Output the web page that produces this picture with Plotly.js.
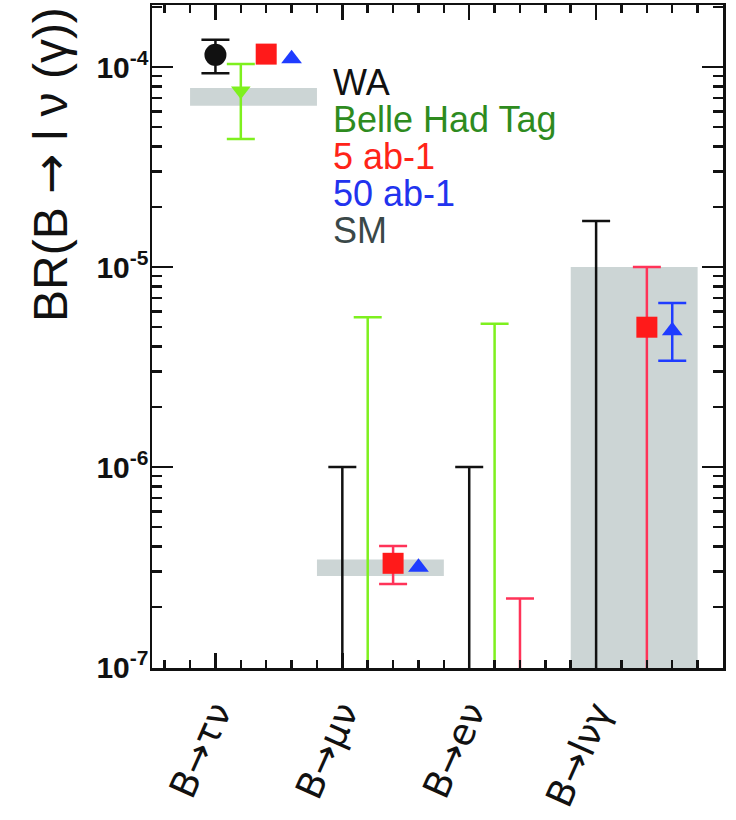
<!DOCTYPE html>
<html><head><meta charset="utf-8">
<script src="https://cdn.plot.ly/plotly-3.0.1.min.js"></script>
<style>html,body{margin:0;padding:0;background:#fff}</style>
</head><body><div id="chart" style="width:736px;height:820px"></div>
<script>
// Categories (x positions 0..3)
const categories = ['B→τν', 'B→μν', 'B→eν', 'B→lνγ'];
const catPos = [0, 1, 2, 3];

// y tick labels
const yTickVals = [1e-7, 1e-6, 1e-5, 1e-4];
const yTickText = ['10<sup>-7</sup>', '10<sup>-6</sup>', '10<sup>-5</sup>', '10<sup>-4</sup>'];

// World average (black)
const waX = [0];
const waY = [1.15e-4];
const waErrPlus = [0.22e-4];
const waErrMinus = [0.22e-4];
const waLimX = [1, 2, 3];
const waLimY = [1.0e-6, 1.0e-6, 1.7e-5];

// Belle hadronic tag (green)
const belleX = [0.2];
const belleY = [7.6e-5];
const belleErrPlus = [2.75e-5];
const belleErrMinus = [3.23e-5];
const belleLimX = [1.2, 2.2];
const belleLimY = [5.6e-6, 5.2e-6];

// 5 ab-1 (red)
const red5PtX = [0.4];
const red5PtY = [1.16e-4];
const red5X = [1.4, 3.4];
const red5Y = [3.3e-7, 5.0e-6];
const red5ErrPlus = [0.73e-7, 5.0e-6];
const red5ErrMinus = [0.70e-7, 5.0e-6];
const red5LimX = [2.4];
const red5LimY = [2.2e-7];

// 50 ab-1 (blue)
const blue50PtX = [0.6, 1.6];
const blue50PtY = [1.1e-4, 3.15e-7];
const blue50X = [3.6];
const blue50Y = [4.8e-6];
const blue50ErrPlus = [1.8e-6];
const blue50ErrMinus = [1.4e-6];

// SM bands
const smX0 = [-0.2, 0.8, 2.8];
const smX1 = [0.8, 1.8, 3.8];
const smLow = [6.4e-5, 2.85e-7, 1e-8];
const smHigh = [7.85e-5, 3.45e-7, 1.0e-5];

// Legend entries
const legendText = ['WA', 'Belle Had Tag', '5 ab-1', '50 ab-1', 'SM'];
const legendColor = ['#111111', '#2e8b1e', '#ff2418', '#2233ee', '#3a4848'];

const yTitle = 'BR(B → l ν (γ))';

const BLACK = '#111111', GREEN = '#7ef01e', RED = '#ff1a1a', REDBAR = '#ff3358', BLUE = '#1f3cff', GRAY = '#ccd5d5';
const arrowSpan = s => s.replace('→', '<span style="font-family:DejaVu Sans">→</span>');

const traces = [];
smX0.forEach((x0, i) => {
  traces.push({
    type: 'scatter', mode: 'lines', fill: 'toself', fillcolor: GRAY,
    line: {width: 0, color: GRAY}, hoverinfo: 'skip',
    x: [x0, smX1[i], smX1[i], x0, x0],
    y: [smLow[i], smLow[i], smHigh[i], smHigh[i], smLow[i]]
  });
});

function limitTrace(xs, ys, color) {
  return {
    type: 'scatter', mode: 'markers', x: xs, y: ys,
    marker: {size: 1, color: 'rgba(0,0,0,0)'},
    error_y: {type: 'data', symmetric: false, array: ys.map(() => 0), arrayminus: ys,
      color: color, thickness: 2.5, width: 14}
  };
}
function pointTrace(xs, ys, plus, minus, color, barColor, symbol, size) {
  const t = {
    type: 'scatter', mode: 'markers', x: xs, y: ys,
    marker: {symbol: symbol, size: size, color: color, line: {width: 0}}
  };
  if (plus) t.error_y = {type: 'data', symmetric: false, array: plus, arrayminus: minus,
    color: barColor, thickness: 2.5, width: 14};
  return t;
}

traces.push(limitTrace(waLimX, waLimY, BLACK));
traces.push(limitTrace(belleLimX, belleLimY, GREEN));
traces.push(limitTrace(red5LimX, red5LimY, REDBAR));
traces.push(pointTrace(waX, waY, waErrPlus, waErrMinus, BLACK, BLACK, 'circle', 22));
traces.push(pointTrace(belleX, belleY, belleErrPlus, belleErrMinus, GREEN, GREEN, 'triangle-down', 17));
traces.push(pointTrace(red5X, red5Y, red5ErrPlus, red5ErrMinus, RED, REDBAR, 'square', 21));
traces.push(pointTrace(red5PtX, red5PtY, null, null, RED, RED, 'square', 21));
traces.push(pointTrace(blue50X, blue50Y, blue50ErrPlus, blue50ErrMinus, BLUE, BLUE, 'triangle-up', 18));
traces.push(pointTrace(blue50PtX, blue50PtY, null, null, BLUE, BLUE, 'triangle-up', 18));

const W = 571, H = 663, L = 152, T = 5;
const legendBlock = legendText.map((t, i) =>
  '<span style="color:' + legendColor[i] + ';font-size:36px">' + t + '</span>').join('<br>');
const annotations = [{
  text: legendBlock, xref: 'paper', yref: 'paper', align: 'left',
  x: (331 - L) / W, y: (H + T - 157) / H,
  xanchor: 'left', yanchor: 'middle', showarrow: false,
  font: {family: 'Liberation Sans', size: 28.5, color: '#111'}
}, {
  text: arrowSpan(yTitle), xref: 'paper', yref: 'paper',
  x: (50 - L) / W, y: (H + T - 165) / H, textangle: -90,
  xanchor: 'center', yanchor: 'middle', showarrow: false,
  font: {family: 'Liberation Sans', size: 48, color: '#111'}
}];

const layout = {
  width: 736, height: 820,
  margin: {l: L, r: 736 - L - W, t: T, b: 820 - T - H},
  paper_bgcolor: '#fff', plot_bgcolor: '#fff',
  showlegend: false,
  xaxis: {
    range: [-0.5, 4.0], tickmode: 'array', tickvals: catPos, ticktext: categories,
    tickangle: -66, ticks: 'inside', ticklen: 15, tickwidth: 2.5, tickcolor: BLACK,
    showline: true, linewidth: 2.5, linecolor: BLACK, mirror: 'ticks',
    showgrid: false, zeroline: false, ticklabelstandoff: 6,
    minor: {dtick: 0.2, tick0: 0, ticks: 'inside', ticklen: 8, tickwidth: 2.5, tickcolor: BLACK, showgrid: false},
    tickfont: {family: 'DejaVu Sans', size: 37, color: BLACK}
  },
  yaxis: {
    type: 'log', range: [-7.005, -3.69], tickmode: 'array', tickvals: yTickVals, ticktext: yTickText,
    ticks: 'inside', ticklen: 21, tickwidth: 2.5, tickcolor: BLACK,
    showline: true, linewidth: 2.5, linecolor: BLACK, mirror: 'ticks',
    showgrid: false, zeroline: false, ticklabelstandoff: -5,
    minor: {dtick: 'D1', ticks: 'inside', ticklen: 10, tickwidth: 2.5, tickcolor: BLACK, showgrid: false},
    tickfont: {family: 'Liberation Sans', size: 30, color: BLACK, weight: 'bold'}
  },
  annotations: annotations
};

Plotly.newPlot('chart', traces, layout, {staticPlot: true});
</script>
</body></html>
